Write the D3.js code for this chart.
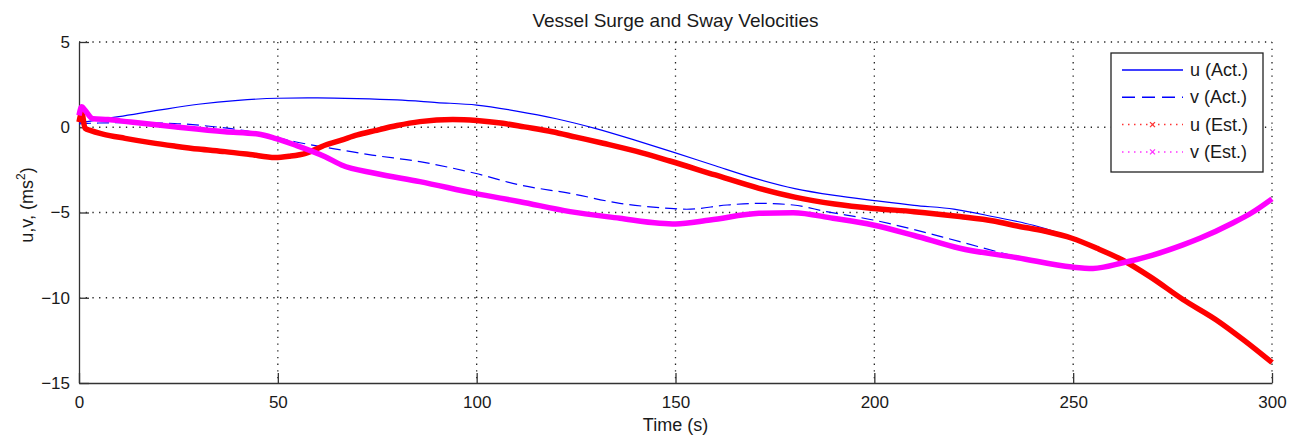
<!DOCTYPE html>
<html>
<head>
<meta charset="utf-8">
<script src="https://cdn.jsdelivr.net/npm/d3@7/dist/d3.min.js"></script>
<style>
  html, body { margin: 0; padding: 0; background: #fff; }
  svg { display: block; }
  text { font-family: "Liberation Sans", Arial, sans-serif; fill: #1a1a1a; }
</style>
</head>
<body>
<svg id="chart" width="1294" height="440"></svg>
<script>
// ---- data ----
const titleText = "Vessel Surge and Sway Velocities";
const xLabelText = "Time (s)";
const xTicks = [0, 50, 100, 150, 200, 250, 300];
const yTicks = [5, 0, -5, -10, -15];
const seriesNames = ["u (Act.)", "v (Act.)", "u (Est.)", "v (Est.)"];

const uActT = [0, 5, 10, 20, 30, 40, 50, 60, 70, 80, 90, 100, 110, 120, 130, 140, 150, 160, 170, 180, 190, 200, 210, 220, 230, 240, 250, 256, 262.5, 269.3, 277.6, 286, 293, 300];
const uActV = [0.25, 0.45, 0.62, 1.0, 1.35, 1.58, 1.70, 1.72, 1.68, 1.6, 1.45, 1.3, 0.95, 0.5, -0.08, -0.77, -1.5, -2.26, -3.0, -3.6, -4.0, -4.3, -4.58, -4.8, -5.25, -5.75, -6.5, -7.1, -7.8, -8.76, -10.1, -11.3, -12.5, -13.8];

const vActT = [0, 5, 11.6, 24, 34, 41.7, 48, 54.3, 60, 66, 73.7, 85.7, 99.6, 110.9, 123.5, 136, 148.6, 152.8, 163, 171, 179.6, 188, 199.7, 210, 221.5, 236, 249.7, 255, 262.5, 270, 277.6, 282, 290, 295, 300];
const vActV = [0.2, 0.25, 0.27, 0.22, 0.03, -0.2, -0.5, -0.85, -1.1, -1.33, -1.63, -2.02, -2.7, -3.39, -3.88, -4.46, -4.76, -4.81, -4.56, -4.46, -4.56, -4.95, -5.44, -6.0, -6.71, -7.59, -8.18, -8.25, -7.95, -7.5, -6.9, -6.5, -5.63, -5.0, -4.2];

const uEstT = [0, 0.7, 1.5, 3, 6, 11.6, 18, 24, 30, 36.7, 43, 49.3, 53, 57, 62, 66, 70, 74.4, 80, 85.7, 94, 100, 106.6, 112, 119, 125, 131.8, 140, 148.6, 160, 171, 180, 190, 199.7, 210, 221.5, 230, 236, 243, 249.7, 256, 262.5, 269.3, 277.6, 286, 293, 300];
const uEstV = [0.3, 0.85, -0.05, -0.2, -0.4, -0.65, -0.9, -1.1, -1.28, -1.43, -1.6, -1.78, -1.7, -1.53, -1.04, -0.75, -0.45, -0.2, 0.1, 0.33, 0.46, 0.4, 0.23, 0.02, -0.26, -0.58, -0.94, -1.4, -1.98, -2.8, -3.58, -4.1, -4.5, -4.76, -4.95, -5.24, -5.5, -5.79, -6.1, -6.51, -7.1, -7.8, -8.76, -10.1, -11.3, -12.5, -13.8];

const vEstT = [0, 0.7, 1.5, 3.5, 7.3, 12, 24, 36.7, 45, 49.3, 54.3, 61.9, 66, 74.4, 85.7, 99.6, 110.9, 123.5, 136, 146, 150, 158.7, 171, 179.6, 189.6, 199.7, 210, 221.5, 236, 249.7, 255, 262.5, 270, 277.6, 282, 290, 295, 300];
const vEstV = [0.7, 1.2, 1.0, 0.5, 0.45, 0.33, 0.03, -0.26, -0.4, -0.65, -1.04, -1.73, -2.21, -2.7, -3.19, -3.88, -4.37, -4.95, -5.34, -5.63, -5.67, -5.44, -5.05, -5.01, -5.34, -5.73, -6.35, -7.1, -7.65, -8.2, -8.28, -7.95, -7.5, -6.9, -6.5, -5.63, -5.0, -4.2];

// ---- layout ----
const W = 1294, H = 440;
const margin = { left: 79, right: 22, top: 42, bottom: 57 };
const pw = W - margin.left - margin.right;
const ph = H - margin.top - margin.bottom;

const svg = d3.select("#chart");
const g = svg.append("g").attr("transform", `translate(${margin.left},${margin.top})`);

const x = d3.scaleLinear().domain([0, 300]).range([0, pw]);
const y = d3.scaleLinear().domain([-15, 5]).range([ph, 0]);

// grid (dotted)
const grid = g.append("g").attr("class", "grid");
grid.selectAll("line.gx").data(xTicks.filter(d => d !== 0)).enter().append("line")
  .attr("x1", d => x(d)).attr("x2", d => x(d)).attr("y1", 0).attr("y2", ph)
  .attr("stroke", "#222").attr("stroke-width", 1.3).attr("stroke-dasharray", "1.3,5.4");
grid.selectAll("line.gy").data(yTicks.filter(d => d !== -15)).enter().append("line")
  .attr("x1", 0).attr("x2", pw).attr("y1", d => y(d)).attr("y2", d => y(d))
  .attr("stroke", "#222").attr("stroke-width", 1.3).attr("stroke-dasharray", "1.3,5.4");

// axes
const xAxis = d3.axisBottom(x).tickValues(xTicks).tickSizeInner(-10).tickSizeOuter(0).tickPadding(13);
const yAxis = d3.axisLeft(y).tickValues(yTicks).tickSizeInner(-10).tickSizeOuter(0).tickPadding(9);
const gx = g.append("g").attr("transform", `translate(0,${ph})`).call(xAxis);
const gy = g.append("g").call(yAxis);
[gx, gy].forEach(a => {
  a.select(".domain").attr("stroke", "#333").attr("stroke-width", 1.3);
  a.selectAll(".tick line").attr("stroke", "#333").attr("stroke-width", 1.3);
  a.selectAll(".tick text").attr("font-size", 17).attr("fill", "#1a1a1a")
    .attr("font-family", "'Liberation Sans', Arial, sans-serif");
});

// lines
const line = d3.line().x(d => x(d[0])).y(d => y(d[1])).curve(d3.curveMonotoneX);
const zip = (t, v) => t.map((d, i) => [d, v[i]]);
const plotArea = g.append("g");
plotArea.append("path").datum(zip(uActT, uActV)).attr("d", line)
  .attr("fill", "none").attr("stroke", "#0000ff").attr("stroke-width", 1.2);
plotArea.append("path").datum(zip(vActT, vActV)).attr("d", line)
  .attr("fill", "none").attr("stroke", "#0000ff").attr("stroke-width", 1.2).attr("stroke-dasharray", "12,6");
plotArea.append("path").datum(zip(uEstT, uEstV)).attr("d", line)
  .attr("fill", "none").attr("stroke", "#ff0000").attr("stroke-width", 5.5).attr("stroke-linejoin", "round");
plotArea.append("path").datum(zip(vEstT, vEstV)).attr("d", line)
  .attr("fill", "none").attr("stroke", "#ff00ff").attr("stroke-width", 5.5).attr("stroke-linejoin", "round");

// title and labels
svg.append("text").attr("x", margin.left + pw / 2).attr("y", 27)
  .attr("text-anchor", "middle").attr("font-size", 19).text(titleText);
svg.append("text").attr("x", margin.left + pw / 2).attr("y", 431)
  .attr("text-anchor", "middle").attr("font-size", 18).text(xLabelText);
const yl = svg.append("text").attr("transform", "translate(33,205) rotate(-90)")
  .attr("text-anchor", "middle").attr("font-size", 18);
yl.append("tspan").text("u,v, (ms");
yl.append("tspan").attr("font-size", 12).attr("dy", -8).text("2");
yl.append("tspan").attr("dy", 8).text(")");

// legend
const lg = svg.append("g");
lg.append("rect").attr("x", 1111).attr("y", 53).attr("width", 152).attr("height", 119)
  .attr("fill", "#fff").attr("stroke", "#222").attr("stroke-width", 1.3);
const legendStyles = [
  { color: "#0000ff", dash: null, w: 1.4, marker: false },
  { color: "#0000ff", dash: "13,7", w: 1.4, marker: false },
  { color: "#ff3333", dash: "1.5,4.5", w: 1.5, marker: true },
  { color: "#ff33ff", dash: "1.5,4.5", w: 1.5, marker: true }
];
seriesNames.forEach((name, i) => {
  const cy = 70 + i * 27.3;
  const s = legendStyles[i];
  lg.append("line").attr("x1", 1122).attr("x2", 1183).attr("y1", cy).attr("y2", cy)
    .attr("stroke", s.color).attr("stroke-width", s.w).attr("stroke-dasharray", s.dash);
  if (s.marker) {
    const mx = 1152.5, r = 2.5;
    lg.append("path").attr("d", `M${mx - r},${cy - r}L${mx + r},${cy + r}M${mx - r},${cy + r}L${mx + r},${cy - r}`)
      .attr("stroke", s.color).attr("stroke-width", 1.3);
  }
  lg.append("text").attr("x", 1190).attr("y", cy + 6).attr("font-size", 18).text(name);
});
</script>
</body>
</html>
